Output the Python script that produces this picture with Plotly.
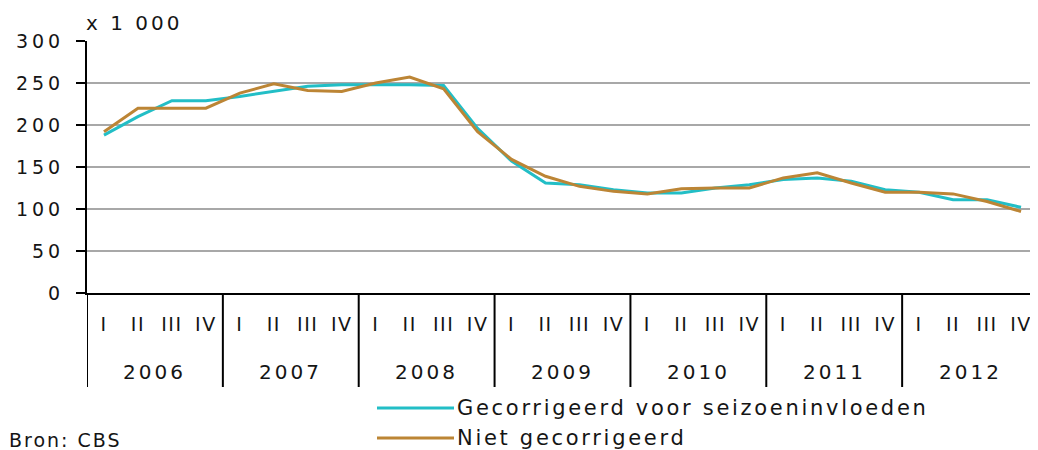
import plotly.graph_objects as go

years = ["2006", "2007", "2008", "2009", "2010", "2011", "2012"]
quarters = ["I", "II", "III", "IV"]

# x 1 000
gecorrigeerd = [188, 210, 229, 229, 234, 240, 246, 248, 248, 248, 247, 196,
                157, 131, 129, 123, 119, 119, 125, 129, 135, 137, 133, 123,
                120, 111, 111, 102]
niet_gecorrigeerd = [192, 220, 220, 220, 238, 249, 241, 240, 250, 257, 243, 192,
                     159, 139, 127, 121, 118, 124, 125, 125, 137, 143, 131, 120,
                     120, 118, 109, 97]
y_ticks = [0, 50, 100, 150, 200, 250, 300]

series_names = ["Gecorrigeerd voor seizoeninvloeden", "Niet gecorrigeerd"]
TEAL = "#22BEC6"
BROWN = "#BC8535"
FONT = "DejaVu Sans"
TXT = "#151515"
OFF = 8  # page body margin
W, H = 1038 - OFF, 450 - OFF
L, R, T = 87 - OFF, 0, 41 - OFF
B = H - (293 - OFF)
PW, PH = W - L - R, H - T - B


def sp(text, ls):
    return f'<span style="letter-spacing:{ls}px">{text}</span>'


def px_x(px):
    return (px - 87) / PW


def px_y(py):
    return (293 - py) / PH


n = len(years) * len(quarters)
xs = list(range(n))

fig = go.Figure()
fig.add_trace(go.Scatter(x=xs, y=gecorrigeerd, mode="lines", name=series_names[0],
                         line=dict(color=TEAL, width=3), showlegend=False))
fig.add_trace(go.Scatter(x=xs, y=niet_gecorrigeerd, mode="lines", name=series_names[1],
                         line=dict(color=BROWN, width=3), showlegend=False))

shapes = []
annotations = []
# year separators
for k in range(len(years) + 1):
    shapes.append(dict(type="line", xref="x", yref="paper", x0=4 * k - 0.5, x1=4 * k - 0.5,
                       y0=0, y1=px_y(387), line=dict(color="black", width=2)))
# year labels
for k, yr in enumerate(years):
    annotations.append(dict(x=4 * k + 1.5, y=px_y(372), xref="x", yref="paper",
                            text=sp(yr, 3), showarrow=False, xanchor="center", yanchor="middle",
                            font=dict(family=FONT, size=20, color=TXT)))
# unit label
annotations.append(dict(x=px_x(84), y=px_y(23), xref="paper", yref="paper",
                        text=sp("x 1 000", 3), showarrow=False, xanchor="left", yanchor="middle",
                        font=dict(family=FONT, size=20, color=TXT)))
# source
annotations.append(dict(x=px_x(7), y=px_y(440), xref="paper", yref="paper",
                        text=sp("Bron: CBS", 2), showarrow=False, xanchor="left", yanchor="middle",
                        font=dict(family=FONT, size=19, color=TXT)))
# legend
for i, (name, col, py) in enumerate([(series_names[0], TEAL, 408), (series_names[1], BROWN, 438)]):
    shapes.append(dict(type="line", xref="paper", yref="paper", x0=px_x(377), x1=px_x(454),
                       y0=px_y(py), y1=px_y(py), line=dict(color=col, width=3)))
    annotations.append(dict(x=px_x(455), y=px_y(py), xref="paper", yref="paper",
                            text=sp(name, 2.7), showarrow=False, xanchor="left", yanchor="middle",
                            font=dict(family=FONT, size=21, color=TXT)))

fig.update_layout(
    width=W, height=H,
    margin=dict(l=L, r=R, t=T, b=B, pad=0),
    paper_bgcolor="white", plot_bgcolor="white",
    shapes=shapes, annotations=annotations,
    xaxis=dict(range=[-0.5, n - 0.5], tickvals=xs,
               ticktext=[sp(q, 1.5) for _ in years for q in quarters],
               ticks="", showgrid=False, zeroline=False,
               showline=True, linecolor="black", linewidth=2,
               tickfont=dict(family=FONT, size=19, color=TXT),
               ticklabelstandoff=13, fixedrange=True),
    yaxis=dict(range=[0, 300], tickvals=y_ticks, ticktext=[sp(str(v), 4) for v in y_ticks],
               ticks="outside", ticklen=9, tickcolor="black", tickwidth=1.5,
               showgrid=True, gridcolor="#A8A8A8", gridwidth=1.5, zeroline=False,
               showline=True, linecolor="black", linewidth=2,
               tickfont=dict(family=FONT, size=19, color=TXT),
               ticklabelstandoff=8, fixedrange=True),
    showlegend=False,
)

fig.write_html("out.html")
